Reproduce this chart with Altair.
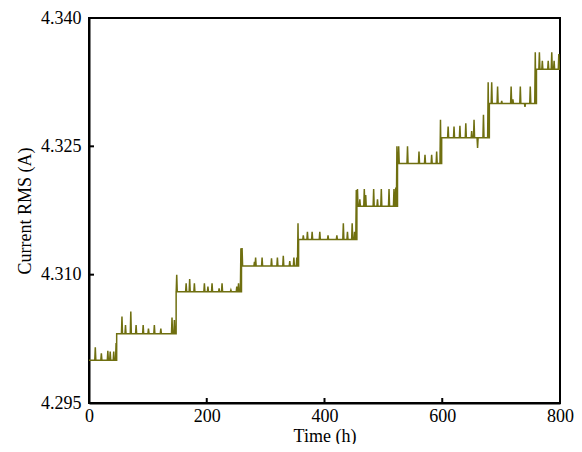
import altair as alt
import pandas as pd

# Step levels: (start time h, baseline current A)
step_start = [0, 47, 148, 259, 356, 455, 524, 599, 680, 760]
step_level = [4.3000, 4.3031, 4.3080, 4.3110, 4.3141, 4.3180, 4.3230, 4.3260, 4.3300, 4.3340]
end_time = 800

# Spikes (time h, peak current A)
spike_t = [10.7, 21, 32, 36, 42, 46,
           56, 62, 71, 80, 92, 101, 111, 122, 141, 145,
           149, 165, 171, 179, 196, 202, 209, 221, 226, 241, 251, 254, 258,
           260, 281, 283, 294, 310, 320, 330, 341, 348, 353, 355,
           364, 371, 379, 392, 406, 421, 432, 439, 447, 451, 454,
           456, 460, 467.6, 470, 483.5, 490, 496.5, 509.6, 518, 521, 523,
           526, 541, 560.5, 570.7, 582, 590.5, 597,
           610, 620, 630, 640, 650, 654, 660, 670, 678,
           684, 694, 701, 717, 720, 732.6, 740.5, 749.5, 758,
           765, 770, 780, 786, 790, 798]
spike_v = [4.3015, 4.3008, 4.3011, 4.3010, 4.3010, 4.3020,
           4.3051, 4.3041, 4.3057, 4.3041, 4.3041, 4.3037, 4.3041, 4.3037, 4.3050, 4.3047,
           4.3100, 4.3090, 4.3095, 4.3090, 4.3090, 4.3086, 4.3090, 4.3084, 4.3090, 4.3082, 4.3086, 4.3090, 4.3131,
           4.3131, 4.3115, 4.3120, 4.3120, 4.3119, 4.3120, 4.3122, 4.3116, 4.3120, 4.3120, 4.3160,
           4.3146, 4.3150, 4.3150, 4.3150, 4.3146, 4.3146, 4.3160, 4.3150, 4.3160, 4.3150, 4.3199,
           4.3200, 4.3188, 4.3200, 4.3193, 4.3200, 4.3188, 4.3200, 4.3200, 4.3200, 4.3202, 4.3250,
           4.3250, 4.3250, 4.3244, 4.3240, 4.3240, 4.3244, 4.3281,
           4.3273, 4.3273, 4.3274, 4.3277, 4.3268, 4.3281, 4.3248, 4.3287, 4.3325,
           4.3325, 4.3320, 4.3303, 4.3320, 4.3305, 4.3320, 4.3296, 4.3320, 4.3360,
           4.3360, 4.3350, 4.3350, 4.3360, 4.3350, 4.3358]


def level_at(t):
    lv = step_level[0]
    for s, l in zip(step_start, step_level):
        if t >= s:
            lv = l
    return lv


events = []
for s, l in zip(step_start[1:], step_level[1:]):
    events.append((s - 0.01, "step", None))
for t, v in zip(spike_t, spike_v):
    events.append((t, "spike", v))
events.sort(key=lambda e: e[0])

xs, ys = [0.0], [step_level[0]]
for t, kind, v in events:
    if kind == "step":
        xs += [t, t + 0.02]
        ys += [level_at(t), level_at(t + 0.02)]
    else:
        xs += [t - 0.9, t, t + 0.9]
        ys += [level_at(t - 0.9), v, level_at(t + 0.9)]
xs.append(end_time)
ys.append(step_level[-1])

df = pd.DataFrame({"t": xs, "i": list(range(len(xs))), "I": ys})

x_ticks = [0, 200, 400, 600, 800]
y_ticks = [4.295, 4.310, 4.325, 4.340]

W, H = 471, 385
FONT = "Liberation Serif"

xs_scale = alt.Scale(domain=[0, 800], nice=False)
ys_scale = alt.Scale(domain=[4.295, 4.340], nice=False, zero=False)

line = alt.Chart(df).mark_line(color="#6f6f10", strokeWidth=1.5, clip=True).encode(
    x=alt.X("t:Q", scale=xs_scale,
            axis=alt.Axis(title="Time (h)", values=x_ticks, format="d", tickSize=0,
                          labelPadding=4, labelFlush=False, grid=False,
                          domainColor="black", domainWidth=2,
                          titleY=38, titleBaseline="alphabetic")),
    y=alt.Y("I:Q", scale=ys_scale,
            axis=alt.Axis(title="Current RMS (A)", values=y_ticks, format=".3f", tickSize=0,
                          labelPadding=8, labelFlush=False, grid=False,
                          domainColor="black", domainWidth=2)),
    order="i:Q",
)

xt = alt.Chart(pd.DataFrame({"v": x_ticks[1:-1]})).mark_rule(color="black", strokeWidth=2).encode(
    x=alt.X("v:Q", scale=xs_scale), y=alt.value(H), y2=alt.value(H - 5))
yt = alt.Chart(pd.DataFrame({"v": y_ticks[1:-1]})).mark_rule(color="black", strokeWidth=2).encode(
    y=alt.Y("v:Q", scale=ys_scale), x=alt.value(0), x2=alt.value(5))

chart = alt.layer(line, xt, yt).properties(
    width=W, height=H,
    autosize=alt.AutoSizeParams(type="none"),
    padding={"left": 81, "top": 10, "right": 14, "bottom": 41},
).configure_view(stroke="black", strokeWidth=2).configure_axis(
    labelFont=FONT, titleFont=FONT, labelFontSize=18, titleFontSize=18,
    labelColor="black", titleColor="black", titleFontWeight="normal",
).configure_axisY(titlePadding=6)

chart.save("out.html", embed_options={"renderer": "svg", "actions": False})
